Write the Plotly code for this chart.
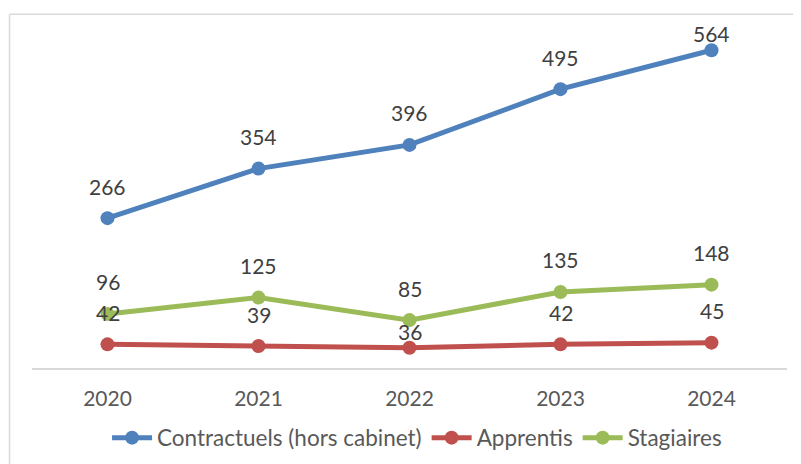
import plotly.graph_objects as go

years = [2020, 2021, 2022, 2023, 2024]
year_labels = ["2020", "2021", "2022", "2023", "2024"]
contractuels = [266, 354, 396, 495, 564]
apprentis = [42, 39, 36, 42, 45]
stagiaires = [96, 125, 85, 135, 148]

series = [
    ("Contractuels (hors cabinet)", contractuels, "#4f81bd"),
    ("Apprentis", apprentis, "#c0504d"),
    ("Stagiaires", stagiaires, "#9bbb59"),
]

FONT = "Lato, Carlito, Calibri, sans-serif"
OFF = 8  # browser body margin
W, H = 801 - OFF, 464 - OFF
ml = 31.5 - OFF
mt = 29.7 - OFF
mr = W - (787.5 - OFF)
mb = H - (368 - OFF)
YMAX = 600

pw = W - ml - mr
ph = H - mt - mb

# label placement style: default offset above the point, clamped inside chart area
LABEL_SHIFT = 32
LABEL_TOP_LIMIT = 33 - OFF  # min label centre (px from top of figure)
label_overrides = {("Apprentis", 2022): 16}

fig = go.Figure()
for name, vals, color in series:
    fig.add_trace(go.Scatter(
        x=years, y=vals, name=name, mode="lines+markers",
        line=dict(color=color, width=5),
        marker=dict(color=color, size=14),
    ))
for name, vals, color in series:
    for xv, yv in zip(years, vals):
        py = mt + ph * (1 - yv / YMAX)
        shift = min(LABEL_SHIFT, py - LABEL_TOP_LIMIT)
        shift = label_overrides.get((name, xv), shift)
        fig.add_annotation(
            x=xv, y=yv, xref="x", yref="y", text=str(yv), showarrow=False,
            yshift=shift, font=dict(family=FONT, size=21, color="#404040"),
        )

bx = (9 - OFF - ml) / pw
by = (H - mb - (14 - OFF)) / ph

fig.add_shape(type="line", xref="paper", yref="paper", x0=bx, x1=1.1, y0=by, y1=by,
              line=dict(color="#d9d9d9", width=1.5))
fig.add_shape(type="line", xref="paper", yref="paper", x0=bx, x1=bx, y0=by, y1=-0.5,
              line=dict(color="#d9d9d9", width=1.5))

fig.update_layout(
    template="none",
    width=W, height=H,
    margin=dict(l=ml, r=mr, t=mt, b=mb, pad=0),
    paper_bgcolor="white", plot_bgcolor="white",
    font=dict(family=FONT, size=21, color="#595959"),
    xaxis=dict(range=[2019.5, 2024.5], tickvals=years, ticktext=year_labels,
               showgrid=False, zeroline=False,
               showline=True, linecolor="#d9d9d9", linewidth=1.5, ticks="",
               ticklabelstandoff=11, automargin=False,
               tickfont=dict(family=FONT, size=21, color="#595959")),
    yaxis=dict(range=[0, YMAX], showgrid=False, zeroline=False, showline=False,
               showticklabels=False, ticks="", automargin=False),
    showlegend=True,
    legend=dict(orientation="h", x=0.51, xanchor="center",
                yref="container", y=(H - (438 - OFF)) / H,
                yanchor="middle", font=dict(family=FONT, size=22.5, color="#595959"),
                itemwidth=40, tracegroupgap=0, bgcolor="rgba(0,0,0,0)",
                borderwidth=0),
)

fig.write_html("out.html")
